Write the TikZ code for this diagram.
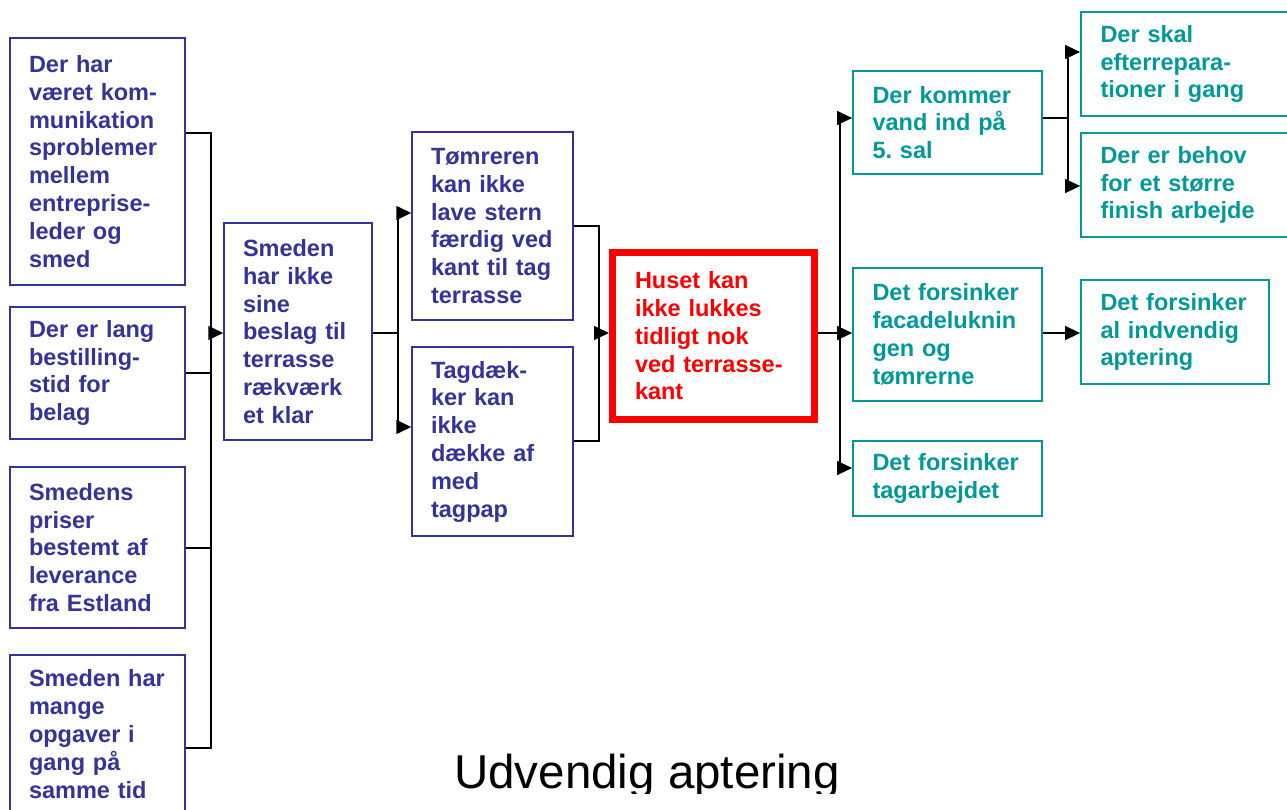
\documentclass[tikz,border=0pt]{standalone}
\usepackage{fontspec}
\setmainfont{Liberation Sans}
\usetikzlibrary{arrows.meta}
\definecolor{myblue}{RGB}{51,51,153}
\definecolor{myteal}{RGB}{0,153,153}
\definecolor{myred}{RGB}{255,0,0}
\begin{document}
\begin{tikzpicture}[x=1pt,y=-1pt,
  boxtext/.style={font=\bfseries\fontsize{23.5}{27.8}\selectfont, align=left, inner ysep=0pt},
  bluebox/.style={boxtext, draw=myblue, line width=1.5pt, text=myblue, inner xsep=19pt},
  tealbox/.style={boxtext, draw=myteal, line width=1.8pt, text=myteal, inner xsep=19.5pt},
  redbox/.style={boxtext, draw=myred, line width=7pt, text=myred, inner xsep=22.5pt},
  conn/.style={draw=black, line width=1.5pt},
  arr/.style={conn, -{Triangle[length=15pt,width=14pt]}}
]
\useasboundingbox (0,0) rectangle (1287,810);

% left column
\node[bluebox, minimum width=175pt, minimum height=247pt, text width=137pt] (b1) at (97.5,161.5)
  {Der~har\\v\ae ret~kom-\\munikation\\sproblemer\\mellem\\entreprise-\\leder~og\\smed};
\node[bluebox, minimum width=175pt, minimum height=132pt, text width=137pt] (b2) at (97.5,373)
  {Der~er~lang\\bestilling-\\stid~for\\belag};
\node[bluebox, minimum width=175pt, minimum height=161pt, text width=137pt] (b3) at (97.5,547.5)
  {Smedens\\priser\\bestemt~af\\leverance\\fra~Estland};
\node[bluebox, minimum width=175pt, minimum height=158pt, text width=137pt] (b4) at (97.5,734)
  {Smeden~har\\mange\\opgaver~i\\gang~på\\samme~tid};

% second column
\node[bluebox, minimum width=148pt, minimum height=217pt, text width=110pt] (b5) at (298,331.5)
  {Smeden\\har~ikke\\sine\\beslag~til\\terrasse\\rækværk\\et~klar};

% third column
\node[bluebox, minimum width=161pt, minimum height=188pt, text width=123pt] (b6) at (492.5,226)
  {Tømreren\\kan~ikke\\lave~stern\\færdig~ved\\kant~til~tag\\terrasse};
\node[bluebox, minimum width=161pt, minimum height=189pt, text width=123pt] (b7) at (492.5,441.5)
  {Tagdæk-\\ker~kan\\ikke\\dække~af\\med\\tagpap};

% central red box
\node[redbox, minimum width=202pt, minimum height=167pt, text width=157pt] (red) at (713.5,336)
  {Huset~kan\\ikke~lukkes\\tidligt~nok\\ved~terrasse-\\kant};

% consequences
\node[tealbox, minimum width=189pt, minimum height=103pt, text width=150pt] (b8) at (947.5,122.5)
  {Der~kommer\\vand~ind~på\\5.~sal};
\node[tealbox, minimum width=189pt, minimum height=133pt, text width=150pt] (b9) at (947.5,334.5)
  {Det~forsinker\\facadeluknin\\gen~og\\tømrerne};
\node[tealbox, minimum width=189pt, minimum height=75pt, text width=150pt] (b10) at (947.5,478.5)
  {Det~forsinker\\tagarbejdet};
\node[tealbox, minimum width=219pt, minimum height=104pt, text width=180pt] (b11) at (1190.5,64)
  {Der~skal\\efterrepara-\\tioner~i~gang};
\node[tealbox, minimum width=219pt, minimum height=104pt, text width=180pt] (b12) at (1190.5,185)
  {Der~er~behov\\for~et~større\\finish~arbejde};
\node[tealbox, minimum width=188pt, minimum height=104pt, text width=149pt] (b13) at (1175,332)
  {Det~forsinker\\al~indvendig\\aptering};

% bus coordinates
\coordinate (k1a) at (211,133);
\coordinate (k1b) at (211,373);
\coordinate (k1c) at (211,548);
\coordinate (k1d) at (211,748);
\coordinate (k1m) at (211,333);
\coordinate (k2a) at (398,213);
\coordinate (k2m) at (398,333);
\coordinate (k2b) at (398,427);
\coordinate (k3a) at (599,226);
\coordinate (k3m) at (599,333);
\coordinate (k3b) at (599,441);
\coordinate (k4a) at (840,118);
\coordinate (k4m) at (840,333);
\coordinate (k4b) at (840,468);
\coordinate (k5a) at (1068,52);
\coordinate (k5m) at (1068,118);
\coordinate (k5b) at (1068,186);

% connectors: causes -> b5
\draw[conn] (b1.east |- k1a) -- (k1a) -- (k1d) -- (b4.east |- k1d);
\draw[conn] (b2.east |- k1b) -- (k1b);
\draw[conn] (b3.east |- k1c) -- (k1c);
\draw[arr] (k1m) -- (b5.west |- k1m);

% b5 -> b6, b7
\draw[conn] (b5.east |- k2m) -- (k2m);
\draw[conn] (k2a) -- (k2b);
\draw[arr] (k2a) -- (b6.west |- k2a);
\draw[arr] (k2b) -- (b7.west |- k2b);

% b6, b7 -> red
\draw[conn] (b6.east |- k3a) -- (k3a) -- (k3b) -- (b7.east |- k3b);
\draw[arr] (k3m) -- (red.west |- k3m);

% red -> consequences
\draw[conn] (red.east |- k4m) -- (k4m);
\draw[conn] (k4a) -- (k4b);
\draw[arr] (k4a) -- (b8.west |- k4a);
\draw[arr] (k4m) -- (b9.west |- k4m);
\draw[arr] (k4b) -- (b10.west |- k4b);

% b8 -> b11, b12
\draw[conn] (b8.east |- k5m) -- (k5m);
\draw[conn] (k5a) -- (k5b);
\draw[arr] (k5a) -- (b11.west |- k5a);
\draw[arr] (k5b) -- (b12.west |- k5b);

% b9 -> b13
\draw[arr] (b9.east |- k4m) -- (b13.west |- k4m);

% title (cut at the bottom as in the reference)
\begin{scope}
\clip (0,0) rectangle (1287,793);
\node[anchor=base west, inner sep=0pt, font=\fontsize{47.5}{54}\selectfont] (title) at (454,788) {Udvendig aptering};
\end{scope}
\end{tikzpicture}
\end{document}
